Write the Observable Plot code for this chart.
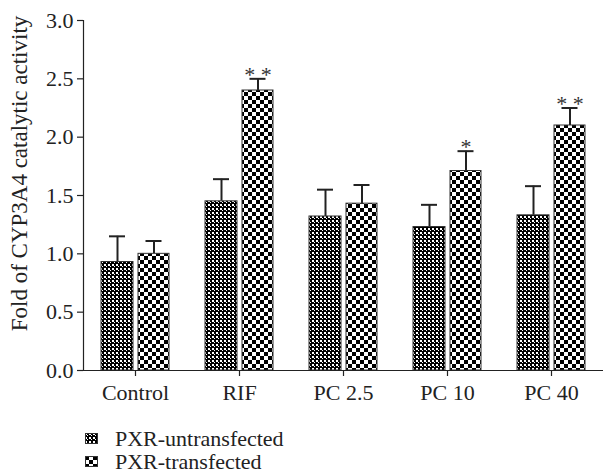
<!DOCTYPE html>
<html>
<head>
<meta charset="utf-8">
<script src="https://cdn.jsdelivr.net/npm/d3@7"></script>
<script src="https://cdn.jsdelivr.net/npm/@observablehq/plot@0.6"></script>
<style>
  body { margin: 0; background: #fff; font-family: "Liberation Serif", "Times New Roman", serif; color: #222; }
  #legend { margin-top: 17px; margin-left: 85px; font-size: 22px; }
  .row { display: flex; align-items: center; height: 23px; }
  .row svg { margin-right: 17px; }
</style>
</head>
<body>
<svg width="0" height="0" style="position:absolute">
  <defs>
    <pattern id="patU" width="4" height="4" patternUnits="userSpaceOnUse">
      <rect width="4" height="4" fill="#000"/>
      <rect x="0" y="0" width="2" height="2" fill="#fff"/>
      <rect x="2" y="2" width="1" height="1" fill="#fff"/>
    </pattern>
    <pattern id="patT" width="8" height="8" patternUnits="userSpaceOnUse">
      <rect width="8" height="8" fill="#fff"/>
      <rect x="0" y="0" width="4" height="4" fill="#000"/>
      <rect x="4" y="4" width="4" height="4" fill="#000"/>
    </pattern>
  </defs>
</svg>
<div id="chart"></div>
<div id="legend"></div>
<script>
const categories = ["Control", "RIF", "PC 2.5", "PC 10", "PC 40"];
const series = ["PXR-untransfected", "PXR-transfected"];
const untransfected = [0.93, 1.45, 1.32, 1.23, 1.33];
const untransfectedErr = [0.22, 0.19, 0.23, 0.19, 0.25];
const transfected = [1.0, 2.4, 1.43, 1.71, 2.1];
const transfectedErr = [0.11, 0.1, 0.16, 0.17, 0.15];
const transfectedStars = ["", "* *", "", "*", "* *"];
const yTicks = [0, 0.5, 1.0, 1.5, 2.0, 2.5, 3.0];
const yLabel = "Fold of CYP3A4 catalytic activity";

const U = categories.map((c, i) => ({cat: c, v: untransfected[i], top: untransfected[i] + untransfectedErr[i]}));
const T = categories.map((c, i) => ({cat: c, v: transfected[i], top: transfected[i] + transfectedErr[i], star: transfectedStars[i]}));

const chart = Plot.plot({
  width: 603,
  height: 410,
  marginLeft: 83,
  marginRight: 0,
  marginTop: 20,
  marginBottom: 40,
  style: {fontFamily: "'Liberation Serif', 'Times New Roman', serif", fontSize: "22px", color: "#222", background: "#fff"},
  x: {domain: categories, paddingInner: 0.346, paddingOuter: 0.173, label: null},
  y: {domain: [0, 3], label: null},
  marks: [
    Plot.axisY({ticks: yTicks, tickFormat: d3.format(".1f"), tickSize: 6, tickPadding: 4, label: null, fontSize: 22, stroke: "#222", strokeWidth: 1.2}),
    Plot.axisX({tickSize: 6, tickPadding: 8, label: null, fontSize: 22, stroke: "#222", strokeWidth: 1.2}),
    Plot.frame({anchor: "left", stroke: "#222", strokeWidth: 1.2}),
    Plot.text([yLabel], {frameAnchor: "left", textAnchor: "middle", rotate: -90, dx: -64, dy: -22, fontSize: 23, fill: "#222"}),
    // error bars
    Plot.ruleX(U, {x: "cat", y1: "v", y2: "top", dx: -18, stroke: "#222", strokeWidth: 2}),
    Plot.ruleX(T, {x: "cat", y1: "v", y2: "top", dx: 18.5, stroke: "#222", strokeWidth: 2}),
    Plot.tickY(U, {x: "cat", y: "top", insetLeft: 8, insetRight: 44, stroke: "#222", strokeWidth: 2}),
    Plot.tickY(T, {x: "cat", y: "top", insetLeft: 44.5, insetRight: 7.5, stroke: "#222", strokeWidth: 2}),
    // bars
    Plot.barY(U, {x: "cat", y: "v", insetLeft: 0, insetRight: 36, fill: "url(#patU)", stroke: "#333", strokeWidth: 1}),
    Plot.barY(T, {x: "cat", y: "v", insetLeft: 37, insetRight: 0, fill: "url(#patT)", stroke: "#333", strokeWidth: 1}),
    Plot.text(T, {x: "cat", y: "top", text: "star", dx: 18.5, dy: -4, fontSize: 22, fill: "#333"}),
    Plot.ruleY([0], {stroke: "#222", strokeWidth: 1.2})
  ]
});
document.getElementById("chart").appendChild(chart);

const legend = document.getElementById("legend");
const pats = ["patU", "patT"];
series.forEach((s, i) => {
  const row = document.createElement("div");
  row.className = "row";
  row.innerHTML = `<svg width="13" height="11"><rect x="0.5" y="0.5" width="12" height="10" fill="url(#${pats[i]})" stroke="#333" stroke-width="1"/></svg><span>${s}</span>`;
  legend.appendChild(row);
});
</script>
</body>
</html>
